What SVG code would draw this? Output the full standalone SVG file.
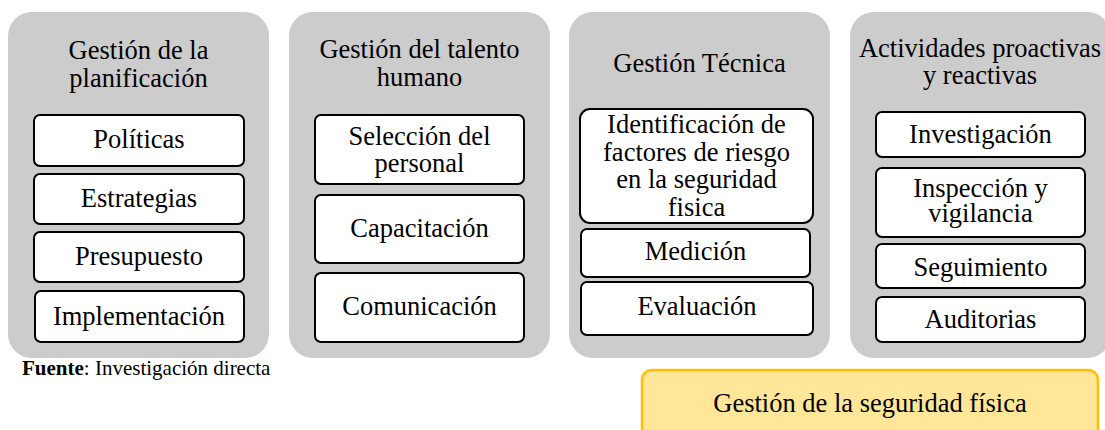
<svg xmlns="http://www.w3.org/2000/svg" width="1105" height="430" viewBox="0 0 1105 430">
<style>
.panel{fill:#cccccc;stroke:none}
.box{fill:#ffffff;stroke:#000000;stroke-width:2}
.t{font-family:"Liberation Serif","Times New Roman",serif;font-size:26.5px;fill:#000000;text-anchor:middle}
.src{font-family:"Liberation Serif","Times New Roman",serif;font-size:21px;fill:#000000}
.goal{fill:#ffe699;stroke:#ffc000;stroke-width:2.5}
</style>
<rect width="1105" height="430" fill="#ffffff"/>
<g id="panel-planificacion">
<rect class="panel" x="8" y="12" width="261" height="346" rx="24"/>
<text class="t" x="138.5" y="59">Gestión de la</text>
<text class="t" x="138.5" y="87">planificación</text>
<g id="politicas"><rect class="box" x="34" y="115" width="210" height="51" rx="6"/><text class="t" x="139" y="148">Políticas</text></g>
<g id="estrategias"><rect class="box" x="34" y="174" width="210" height="50" rx="6"/><text class="t" x="139" y="207">Estrategias</text></g>
<g id="presupuesto"><rect class="box" x="34" y="232" width="210" height="50" rx="6"/><text class="t" x="139" y="265">Presupuesto</text></g>
<g id="implementacion"><rect class="box" x="35" y="291" width="209" height="51" rx="6"/><text class="t" x="139" y="325">Implementación</text></g>
</g>
<g id="panel-talento">
<rect class="panel" x="289" y="12" width="261" height="346" rx="24"/>
<text class="t" x="419.5" y="58">Gestión del talento</text>
<text class="t" x="419.5" y="86">humano</text>
<g id="seleccion"><rect class="box" x="315" y="115" width="209" height="69" rx="6"/><text class="t" x="419.5" y="145">Selección del</text><text class="t" x="419.5" y="172">personal</text></g>
<g id="capacitacion"><rect class="box" x="315" y="195" width="209" height="68" rx="6"/><text class="t" x="419.5" y="237">Capacitación</text></g>
<g id="comunicacion"><rect class="box" x="315" y="273" width="209" height="69" rx="6"/><text class="t" x="419.5" y="315">Comunicación</text></g>
</g>
<g id="panel-tecnica">
<rect class="panel" x="569" y="12" width="261" height="346" rx="24"/>
<text class="t" x="699.5" y="72">Gestión Técnica</text>
<g id="identificacion"><rect class="box" x="580" y="109" width="233" height="114" rx="10"/>
<text class="t" x="696.5" y="133">Identificación de</text>
<text class="t" x="696.5" y="161">factores de riesgo</text>
<text class="t" x="696.5" y="188">en la seguridad</text>
<text class="t" x="696.5" y="216">fisica</text></g>
<g id="medicion"><rect class="box" x="581" y="229" width="229" height="48" rx="6"/><text class="t" x="695.5" y="260">Medición</text></g>
<g id="evaluacion"><rect class="box" x="581" y="282" width="232" height="53" rx="6"/><text class="t" x="697" y="315">Evaluación</text></g>
</g>
<g id="panel-actividades">
<rect class="panel" x="850" y="12" width="261" height="346" rx="24"/>
<text class="t" x="980" y="57">Actividades proactivas</text>
<text class="t" x="980" y="84">y reactivas</text>
<g id="investigacion"><rect class="box" x="876" y="112" width="209" height="45" rx="6"/><text class="t" x="980.5" y="143">Investigación</text></g>
<g id="inspeccion"><rect class="box" x="876" y="168" width="209" height="69" rx="6"/><text class="t" x="980.5" y="197">Inspección y</text><text class="t" x="980.5" y="222">vigilancia</text></g>
<g id="seguimiento"><rect class="box" x="876" y="244" width="209" height="44" rx="6"/><text class="t" x="980.5" y="276">Seguimiento</text></g>
<g id="auditorias"><rect class="box" x="876" y="297" width="209" height="45" rx="6"/><text class="t" x="980.5" y="328">Auditorias</text></g>
</g>
<g id="connectors"></g>
<g id="fuente">
<text class="src" x="22" y="375"><tspan font-weight="bold">Fuente</tspan>: Investigación directa</text>
</g>
<g id="goal">
<rect class="goal" x="642" y="370" width="456" height="80" rx="10"/>
<text class="t" x="870" y="412">Gestión de la seguridad física</text>
</g>
</svg>
